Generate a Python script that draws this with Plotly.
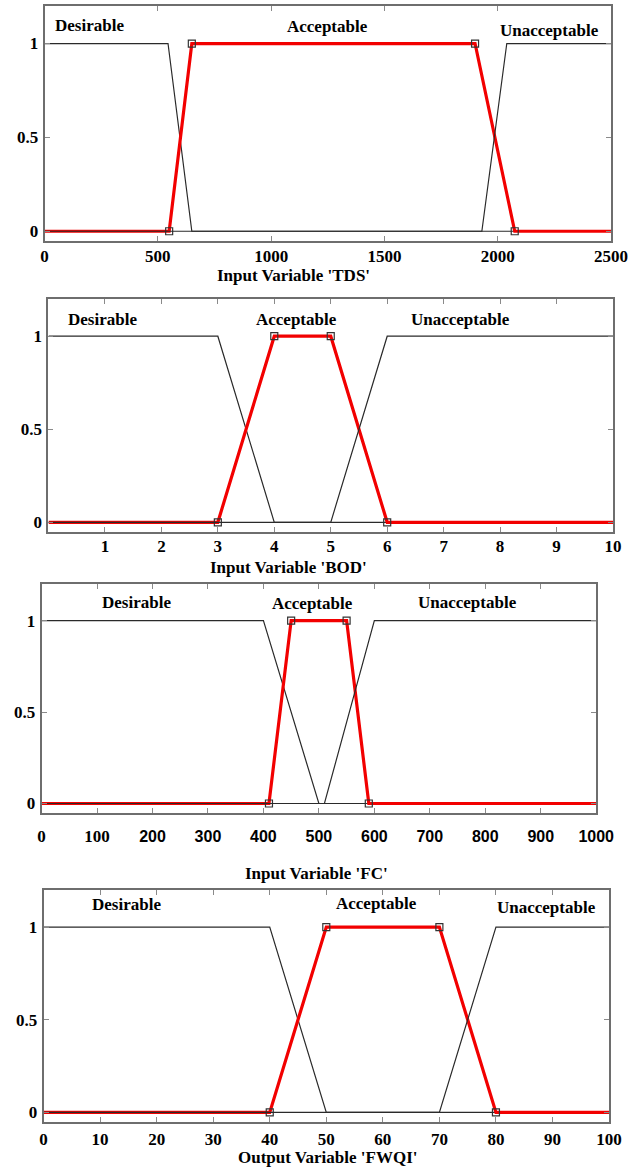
import plotly.graph_objects as go

W, H = 631, 1168
# horizontal positions are expressed against the width the page is laid out at
# in the viewer (the viewport loses ~15px to the scrollbar gutter)
W_EFF = 616

mf_names = ["Desirable", "Acceptable", "Unacceptable"]

# ---- TDS ----
tds_des_x = [0, 545, 650, 2500]
tds_des_y = [1, 1, 0, 0]
tds_acc_x = [0, 550, 650, 1900, 2075, 2500]
tds_acc_y = [0, 0, 1, 1, 0, 0]
tds_una_x = [0, 1930, 2040, 2500]
tds_una_y = [0, 0, 1, 1]
tds_ticks = [0, 500, 1000, 1500, 2000, 2500]

# ---- BOD ----
bod_des_x = [0, 3, 4, 10]
bod_des_y = [1, 1, 0, 0]
bod_acc_x = [0, 3, 4, 5, 6, 10]
bod_acc_y = [0, 0, 1, 1, 0, 0]
bod_una_x = [0, 5, 6, 10]
bod_una_y = [0, 0, 1, 1]
bod_ticks = [1, 2, 3, 4, 5, 6, 7, 8, 9, 10]

# ---- FC ----
fc_des_x = [0, 400, 500, 1000]
fc_des_y = [1, 1, 0, 0]
fc_acc_x = [0, 410, 450, 550, 590, 1000]
fc_acc_y = [0, 0, 1, 1, 0, 0]
fc_una_x = [0, 510, 600, 1000]
fc_una_y = [0, 0, 1, 1]
fc_ticks = [0, 100, 200, 300, 400, 500, 600, 700, 800, 900, 1000]

# ---- FWQI ----
fwqi_des_x = [0, 40, 50, 100]
fwqi_des_y = [1, 1, 0, 0]
fwqi_acc_x = [0, 40, 50, 70, 80, 100]
fwqi_acc_y = [0, 0, 1, 1, 0, 0]
fwqi_una_x = [0, 70, 80, 100]
fwqi_una_y = [0, 0, 1, 1]
fwqi_ticks = [0, 10, 20, 30, 40, 50, 60, 70, 80, 90, 100]

y_ticks = [0, 0.5, 1]
y_labels = ["0", "0.5", "1"]

SERIF = "Liberation Serif, Times New Roman, serif"


def fc_label(v):
    # the FC axis mixes a serif and a bold sans face in the reference
    if v >= 200:
        return '<span style="font-family:Liberation Sans, Arial, sans-serif;font-size:16px">%d</span>' % v
    return str(v)


panels = [
    dict(des=(tds_des_x, tds_des_y), acc=(tds_acc_x, tds_acc_y), una=(tds_una_x, tds_una_y),
         ticks=tds_ticks, ticktext=[str(v) for v in tds_ticks], xmax=2500,
         title="Input Variable 'TDS'",
         box=(41, 614, 6, 241), title_pos=(293, 276), standoff=-1,
         labels=[(200, 1.096), (1250, 1.093), (2228, 1.07)]),
    dict(des=(bod_des_x, bod_des_y), acc=(bod_acc_x, bod_acc_y), una=(bod_una_x, bod_una_y),
         ticks=bod_ticks, ticktext=[str(v) for v in bod_ticks], xmax=10,
         title="Input Variable 'BOD'",
         box=(45, 616, 299, 532), title_pos=(288, 568), standoff=-2,
         labels=[(0.95, 1.09), (4.40, 1.09), (7.30, 1.09)]),
    dict(des=(fc_des_x, fc_des_y), acc=(fc_acc_x, fc_acc_y), una=(fc_una_x, fc_una_y),
         ticks=fc_ticks, ticktext=[fc_label(v) for v in fc_ticks], xmax=1000,
         title="Input Variable 'FC'",
         box=(38, 599, 584, 813), title_pos=(316, 873), standoff=7,
         labels=[(172, 1.10), (489, 1.095), (768, 1.10)]),
    dict(des=(fwqi_des_x, fwqi_des_y), acc=(fwqi_acc_x, fwqi_acc_y), una=(fwqi_una_x, fwqi_una_y),
         ticks=fwqi_ticks, ticktext=[str(v) for v in fwqi_ticks], xmax=100,
         title="Output Variable 'FWQI'",
         box=(40, 612, 890, 1122), title_pos=(327, 1157), standoff=1,
         labels=[(14.6, 1.12), (58.9, 1.125), (89.0, 1.107)]),
]

BLACK = "#2a2a2a"
RED = "#f20000"

fig = go.Figure()
annotations = []
layout_axes = {}

for i, p in enumerate(panels):
    n = "" if i == 0 else str(i + 1)
    xa, ya = "x" + n, "y" + n
    l, r, t, b = p["box"]
    # drawing order as in the reference: Desirable, Acceptable, Unacceptable
    fig.add_trace(go.Scatter(x=p["des"][0], y=p["des"][1], mode="lines",
                             line=dict(color=BLACK, width=1.2), xaxis=xa, yaxis=ya,
                             showlegend=False, hoverinfo="skip"))
    fig.add_trace(go.Scatter(x=p["acc"][0], y=p["acc"][1], mode="lines",
                             line=dict(color=RED, width=3.2), xaxis=xa, yaxis=ya,
                             showlegend=False, hoverinfo="skip"))
    fig.add_trace(go.Scatter(x=p["acc"][0][1:-1], y=p["acc"][1][1:-1], mode="markers",
                             marker=dict(symbol="square-open", size=7, color="#333333",
                                         line=dict(width=1.2)),
                             xaxis=xa, yaxis=ya, showlegend=False, hoverinfo="skip"))
    fig.add_trace(go.Scatter(x=p["una"][0], y=p["una"][1], mode="lines",
                             line=dict(color=BLACK, width=1.2), xaxis=xa, yaxis=ya,
                             showlegend=False, hoverinfo="skip"))

    axis_common = dict(showline=True, mirror="ticks", linecolor="#6e6e6e", linewidth=2,
                       ticks="inside", ticklen=5, tickcolor="#8a8a8a", tickwidth=1.2,
                       showgrid=False, zeroline=False, fixedrange=True,
                       tickfont=dict(family=SERIF, size=17, color="black", weight="bold"))
    layout_axes["xaxis" + n] = dict(axis_common,
                                    domain=[l / W_EFF, min(r / W_EFF, 1.0)],
                                    range=[0, p["xmax"]],
                                    anchor=ya, tickvals=p["ticks"], ticktext=p["ticktext"],
                                    ticklabelstandoff=p["standoff"])
    layout_axes["yaxis" + n] = dict(axis_common, domain=[1 - b / H, 1 - t / H],
                                    range=[-0.052, 1.2], anchor=xa,
                                    tickvals=y_ticks, ticktext=y_labels,
                                    ticklabelstandoff=1)
    for name, (lx, ly) in zip(mf_names, p["labels"]):
        annotations.append(dict(x=lx, y=ly, xref=xa, yref=ya, text=name, showarrow=False,
                                font=dict(family=SERIF, size=17, color="black", weight="bold"),
                                xanchor="center", yanchor="middle"))
    tx, ty = p["title_pos"]
    annotations.append(dict(x=tx / W_EFF, y=1 - ty / H, xref="paper", yref="paper",
                            text=p["title"], showarrow=False,
                            font=dict(family=SERIF, size=17, color="black", weight="bold"),
                            xanchor="center", yanchor="middle"))

fig.update_layout(width=W, height=H, autosize=False, margin=dict(l=0, r=0, t=0, b=0),
                  paper_bgcolor="white", plot_bgcolor="white",
                  annotations=annotations, **layout_axes)

fig.write_html("out.html",
               post_script="document.body.style.margin='0';document.body.style.overflow='hidden';"
                           "document.documentElement.style.overflow='hidden';",
               config=dict(displayModeBar=False, responsive=False))
